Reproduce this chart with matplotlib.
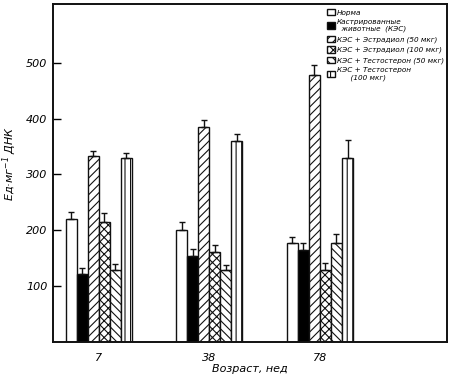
import matplotlib
matplotlib.use("Agg")
import matplotlib.pyplot as plt
import numpy as np

plt.rcParams['font.family'] = ['Liberation Sans Narrow', 'DejaVu Sans']
plt.rcParams['font.style'] = 'italic'
plt.rcParams['hatch.linewidth'] = 0.8

ages = ["7", "38", "78"]
series = ["Норма",
          "Кастрированные\n  животные  (КЭС)",
          "КЭС + Эстрадиол (50 мкг)",
          "КЭС + Эстрадиол (100 мкг)",
          "КЭС + Тестостерон (50 мкг)",
          "КЭС + Тестостерон\n      (100 мкг)"]
norm = [221, 200, 177]
kes = [121, 154, 165]
estr50 = [333, 384, 478]
estr100 = [214, 161, 129]
test50 = [129, 129, 178]
test100 = [329, 360, 330]
norm_err = [12, 14, 11]
kes_err = [12, 12, 13]
estr50_err = [8, 14, 17]
estr100_err = [17, 13, 13]
test50_err = [10, 8, 16]
test100_err = [9, 13, 32]

values = [norm, kes, estr50, estr100, test50, test100]
errors = [norm_err, kes_err, estr50_err, estr100_err, test50_err, test100_err]
colors = ['white', 'black', 'white', 'white', 'white', 'white']
hatches = [None, None, '////', 'xxxx', '\\\\\\\\', '|||']

fig = plt.figure(figsize=(4.5, 3.75), dpi=100)
ax = fig.add_axes([53/450, 33/375, 394/450, 338/375])

x = np.arange(len(ages))
w = 0.1
for i, (v, e, c, h, lab) in enumerate(zip(values, errors, colors, hatches, series)):
    pos = x + (i - 2.5) * w
    ax.bar(pos, v, width=w, color=c, edgecolor='#111111', linewidth=1.0,
           hatch=h, label=lab,
           yerr=[np.zeros(len(e)), e],
           error_kw=dict(ecolor='#111111', elinewidth=1.0, capsize=2.5, capthick=1.0))

ax.set_xlim(-0.414, 3.15)
ax.set_ylim(0, 605)
ax.set_yticks([100, 200, 300, 400, 500])
ax.set_yticklabels(["100", "200", "300", "400", "500"])
ax.set_xticks(x)
ax.set_xticklabels(ages)
ax.tick_params(axis='y', direction='in', length=6, width=1, labelsize=8, pad=4)
ax.tick_params(axis='x', length=0, labelsize=8, pad=8)
for s in ax.spines.values():
    s.set_linewidth(1.4)
    s.set_color('#111111')

ax.set_xlabel("Возраст, нед", fontsize=8, labelpad=1)
ax.set_ylabel("Ед·мг$^{-1}$ ДНК", fontsize=8)
ax.yaxis.set_label_coords(-0.09, 0.53)

leg = ax.legend(loc='upper left', bbox_to_anchor=(327/450, 1 - 9/375),
                bbox_transform=fig.transFigure, frameon=False, fontsize=5.2,
                handlelength=1.1, handleheight=1.0, handletextpad=0.25,
                labelspacing=0.45, borderaxespad=0, borderpad=0)

fig.savefig("out.png", dpi=100)
